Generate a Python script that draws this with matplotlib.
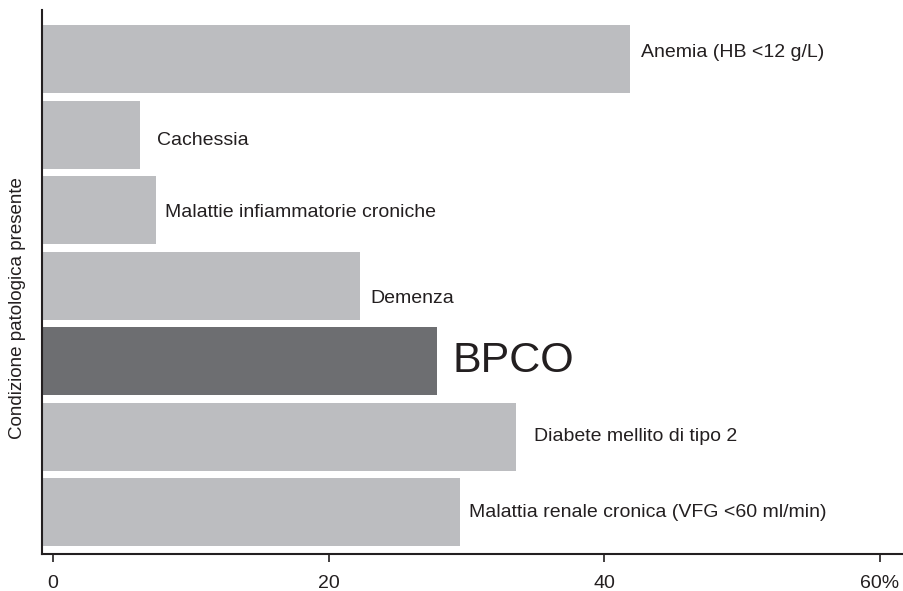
import numpy as np
import matplotlib
matplotlib.use('Agg')
import matplotlib.pyplot as plt

plt.rcParams['font.family'] = ['Liberation Sans', 'DejaVu Sans']

# prevalence (%) of each condition, top to bottom
conditions = ['Anemia (HB <12 g/L)', 'Cachessia', 'Malattie infiammatorie croniche',
              'Demenza', 'BPCO', 'Diabete mellito di tipo 2',
              'Malattia renale cronica (VFG <60 ml/min)']
values = [41.9, 6.3, 7.45, 22.3, 27.9, 33.6, 29.5]
highlight = 'BPCO'
xticks = [0, 20, 40, 60]
xtick_labels = ['0', '20', '40', '60%']

# label placement tweaks (points): right shift, vertical shift
label_dx = [8, 12, 7, 7, 11, 13, 7]
label_dy = [5, -4, -2, -9, 0, 0, 0]

light = '#bcbdc0'
dark = '#6d6e71'
ink = '#231f20'

fig = plt.figure(figsize=(9.04, 5.91), dpi=100)
ax = fig.add_axes([0.0465, 0.0618, 0.9535, 0.9213])

xmin, xmax = -0.8, 61.76
y = np.arange(len(values))
colors = [dark if c == highlight else light for c in conditions]
ax.barh(y, np.array(values) - xmin, left=xmin, height=0.9, color=colors, zorder=1)

for i, (c, v) in enumerate(zip(conditions, values)):
    size = 31 if c == highlight else 14
    ax.annotate(c, (v, i), xytext=(label_dx[i], label_dy[i]),
                textcoords='offset points', ha='left', va='center',
                fontsize=size, color=ink)

ax.set_xlim(xmin, xmax)
ax.set_ylim(6.556, -0.649)
ax.set_yticks([])
ax.set_xticks(xticks)
ax.set_xticklabels(xtick_labels, fontsize=14, color=ink)
ax.tick_params(axis='x', direction='out', length=6, width=1.2, color=ink, pad=9)

for side in ['top', 'right']:
    ax.spines[side].set_visible(False)
for side in ['left', 'bottom']:
    ax.spines[side].set_linewidth(1.5)
    ax.spines[side].set_color(ink)

fig.text(18 / 904, 1 - 308 / 591, 'Condizione patologica presente', rotation=90,
         ha='center', va='center', fontsize=13.5, color=ink)

fig.savefig('out.png', dpi=100)
